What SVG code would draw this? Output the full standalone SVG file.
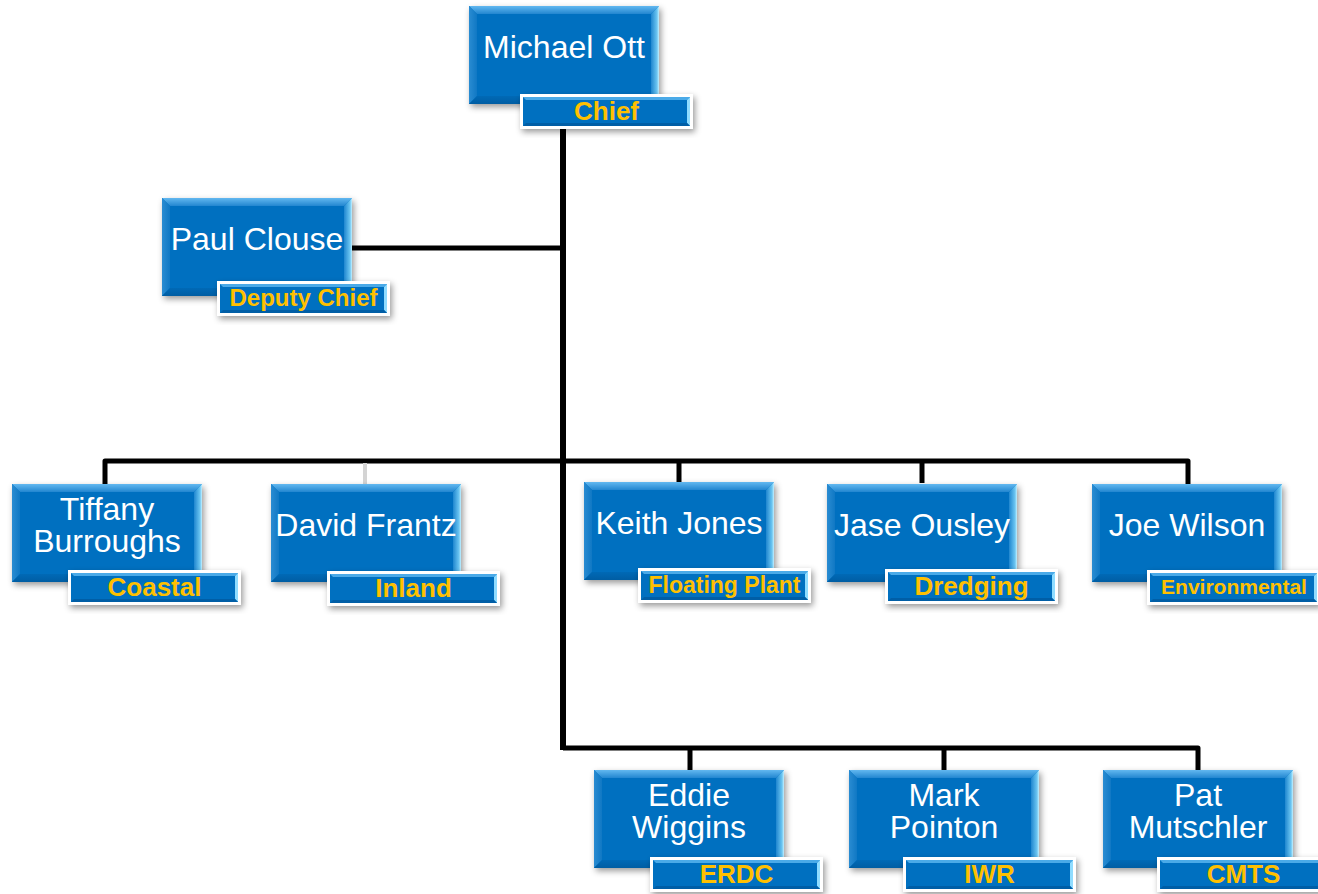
<svg xmlns="http://www.w3.org/2000/svg" xmlns:xlink="http://www.w3.org/1999/xlink" width="1318" height="894" viewBox="0 0 1318 894">
<defs>
<style>
.nm{font-family:"Liberation Sans",Arial,sans-serif;font-size:32px;fill:#ffffff;text-anchor:middle}
.lb{font-family:"Liberation Sans",Arial,sans-serif;font-weight:bold;font-size:26px;fill:#FFC000;text-anchor:middle}
.cn{fill:none;stroke:#000;stroke-width:5;stroke-linejoin:round}
</style>
<filter id="sh" x="-10%" y="-10%" width="125%" height="135%">
<feDropShadow dx="2" dy="3" stdDeviation="3" flood-color="#000" flood-opacity="0.4"/>
</filter>
<linearGradient id="gt" x1="0" y1="0" x2="0" y2="1">
<stop offset="0" stop-color="#62b8f0"/><stop offset="1" stop-color="#2286d0"/>
</linearGradient>
<linearGradient id="gr" x1="1" y1="0" x2="0" y2="0">
<stop offset="0" stop-color="#c4f0ff"/><stop offset="0.25" stop-color="#6cc6f2"/><stop offset="1" stop-color="#1f86cf"/>
</linearGradient>
<linearGradient id="gb" x1="0" y1="1" x2="0" y2="0">
<stop offset="0" stop-color="#005da3"/><stop offset="1" stop-color="#0069b6"/>
</linearGradient>
<linearGradient id="gl" x1="0" y1="0" x2="1" y2="0">
<stop offset="0" stop-color="#2a8cd2"/><stop offset="1" stop-color="#1078c4"/>
</linearGradient>
<g id="box">
<rect x="0" y="0" width="190" height="98" fill="#0070C0" filter="url(#sh)"/>
<polygon points="0,0 190,0 182,8 8,8" fill="url(#gt)"/>
<polygon points="0,0 8,8 8,90 0,98" fill="url(#gl)"/>
<polygon points="0,98 8,90 182,90 190,98" fill="url(#gb)"/>
<polygon points="190,0 190,98 182,90 182,8" fill="url(#gr)"/>
</g>
<g id="lbl">
<rect x="0" y="0" width="173" height="35" fill="#ffffff" filter="url(#sh)"/>
<rect x="3" y="3" width="167" height="29" fill="#0070C0"/>
<polygon points="3,3 170,3 167,6 6,6" fill="#4aaae8"/>
<polygon points="170,3 170,32 167,29 167,6" fill="#8fdcff"/>
<polygon points="3,32 6,29 167,29 170,32" fill="#005ea6"/>
</g>
</defs>
<rect width="1318" height="894" fill="#ffffff"/>
<g id="connectors">
<line x1="563" y1="126" x2="563" y2="750" stroke="#000" stroke-width="6"/>
<line x1="350" y1="248" x2="563" y2="248" stroke="#000" stroke-width="5"/>
<path class="cn" d="M105,484 V461 H563" stroke-width="4"/>
<path class="cn" d="M563,461 H1188 V484"/>
<line x1="679" y1="461" x2="679" y2="482" stroke="#000" stroke-width="5"/>
<line x1="922" y1="461" x2="922" y2="483" stroke="#000" stroke-width="5"/>
<line x1="365" y1="463" x2="365" y2="484" stroke="#d4d4d4" stroke-width="4"/>
<path class="cn" d="M563,748 H1198 V770"/>
<line x1="690" y1="748" x2="690" y2="770" stroke="#000" stroke-width="5"/>
<line x1="944" y1="748" x2="944" y2="770" stroke="#000" stroke-width="5"/>
</g>
<g id="n-michael" transform="translate(469,6)">
<use xlink:href="#box"/>
<text class="nm" x="95" y="52">Michael Ott</text>
<use xlink:href="#lbl" x="51" y="88"/>
<text class="lb" x="137.5" y="114">Chief</text>
</g>
<g id="n-paul" transform="translate(162,198)">
<use xlink:href="#box"/>
<text class="nm" x="95" y="52">Paul Clouse</text>
<use xlink:href="#lbl" x="55" y="83"/>
<text class="lb" x="141.5" y="108" style="font-size:24px">Deputy Chief</text>
</g>
<g id="n-tiffany" transform="translate(12,484)">
<use xlink:href="#box"/>
<text class="nm" x="95" y="36">Tiffany</text>
<text class="nm" x="95" y="68">Burroughs</text>
<use xlink:href="#lbl" x="56" y="86"/>
<text class="lb" x="142.5" y="112">Coastal</text>
</g>
<g id="n-david" transform="translate(271,484)">
<use xlink:href="#box"/>
<text class="nm" x="95" y="52">David Frantz</text>
<use xlink:href="#lbl" x="56" y="87"/>
<text class="lb" x="142.5" y="113">Inland</text>
</g>
<g id="n-keith" transform="translate(584,482)">
<use xlink:href="#box"/>
<text class="nm" x="95" y="52">Keith Jones</text>
<use xlink:href="#lbl" x="54" y="86"/>
<text class="lb" x="140.5" y="111" style="font-size:23px">Floating Plant</text>
</g>
<g id="n-jase" transform="translate(827,484)">
<use xlink:href="#box"/>
<text class="nm" x="95" y="52">Jase Ousley</text>
<use xlink:href="#lbl" x="58" y="85"/>
<text class="lb" x="144.5" y="111">Dredging</text>
</g>
<g id="n-joe" transform="translate(1092,484)">
<use xlink:href="#box"/>
<text class="nm" x="95" y="52">Joe Wilson</text>
<use xlink:href="#lbl" x="55" y="86"/>
<text class="lb" x="142" y="110" style="font-size:21px">Environmental</text>
</g>
<g id="n-eddie" transform="translate(594,770)">
<use xlink:href="#box"/>
<text class="nm" x="95" y="36">Eddie</text>
<text class="nm" x="95" y="68">Wiggins</text>
<use xlink:href="#lbl" x="56" y="87"/>
<text class="lb" x="142.5" y="113">ERDC</text>
</g>
<g id="n-mark" transform="translate(849,770)">
<use xlink:href="#box"/>
<text class="nm" x="95" y="36">Mark</text>
<text class="nm" x="95" y="68">Pointon</text>
<use xlink:href="#lbl" x="54" y="87"/>
<text class="lb" x="140.5" y="113">IWR</text>
</g>
<g id="n-pat" transform="translate(1103,770)">
<use xlink:href="#box"/>
<text class="nm" x="95" y="36">Pat</text>
<text class="nm" x="95" y="68">Mutschler</text>
<use xlink:href="#lbl" x="54" y="87"/>
<text class="lb" x="140.5" y="113">CMTS</text>
</g>
</svg>
